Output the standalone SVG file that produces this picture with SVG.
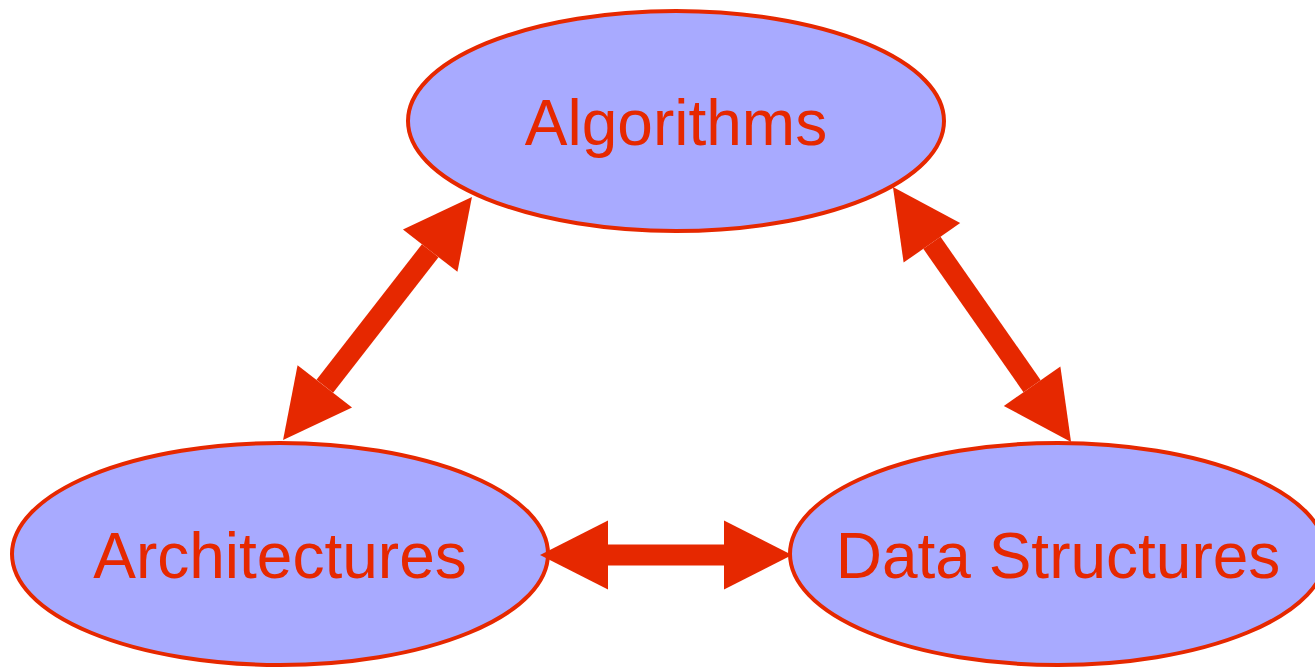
<svg xmlns="http://www.w3.org/2000/svg" width="1315" height="668" viewBox="0 0 1315 668">
  <style>
    .node ellipse { fill: #a8aaff; stroke: #e62800; stroke-width: 4; }
    .node text { font-family: "Liberation Sans", Arial, sans-serif; font-size: 64px; fill: #e62800; text-anchor: middle; }
    .edge { stroke: #e62800; stroke-width: 21; fill: none; marker-start: url(#head); marker-end: url(#head); }
  </style>
  <defs>
    <marker id="head" markerUnits="userSpaceOnUse" markerWidth="70" markerHeight="70" refX="0" refY="0" orient="auto-start-reverse" overflow="visible">
      <path d="M0,-34.5 L68,0 L0,34.5 Z" fill="#e62800"/>
    </marker>
  </defs>
  <rect width="1315" height="668" fill="#ffffff"/>

  <g id="algorithms" class="node">
    <ellipse cx="676" cy="121" rx="268" ry="110"/>
    <text x="676" y="145">Algorithms</text>
  </g>
  <g id="architectures" class="node">
    <ellipse cx="280" cy="554" rx="268" ry="111"/>
    <text x="280" y="578">Architectures</text>
  </g>
  <g id="data-structures" class="node">
    <ellipse cx="1058" cy="554" rx="268" ry="111"/>
    <text x="1058" y="578">Data Structures</text>
  </g>

  <g id="connectors">
    <line class="edge" x1="324.8" y1="386.3" x2="430.2" y2="250.7"/>
    <line class="edge" x1="931.9" y1="242.8" x2="1032.1" y2="386.2"/>
    <line class="edge" x1="608" y1="555" x2="724" y2="555"/>
  </g>
</svg>
